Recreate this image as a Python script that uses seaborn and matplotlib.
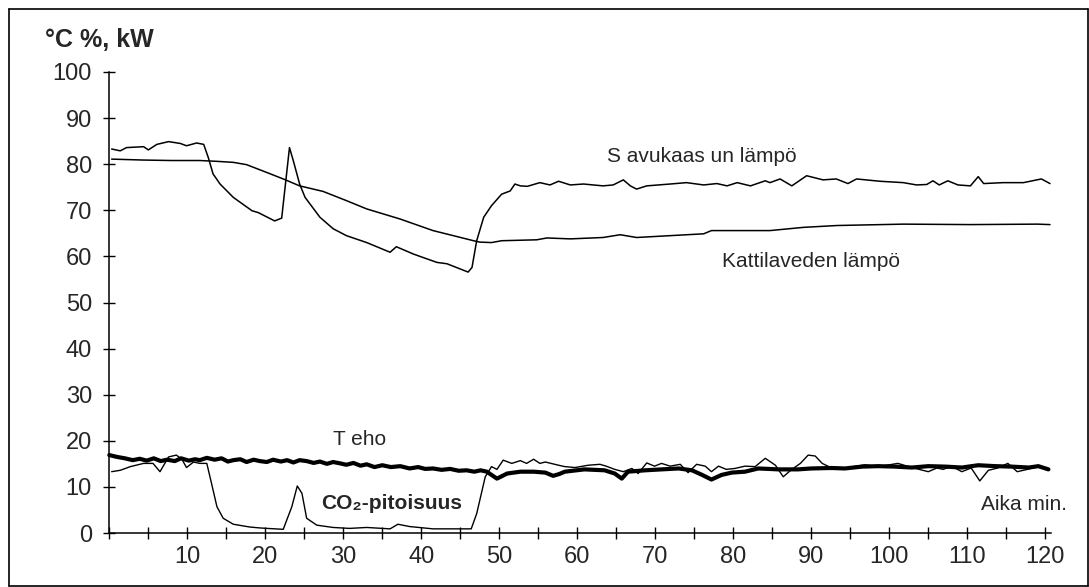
import matplotlib
matplotlib.use("Agg")
import matplotlib.pyplot as plt
import seaborn as sns
from matplotlib.lines import Line2D

# ---------------- data ----------------
# Savukaasun lämpö (flue gas temperature)
sav_x = [0.3, 1.4, 2.2, 3.3, 4.4, 5.0, 6.1, 7.6, 9.1, 9.9, 11.2, 12.1, 12.7, 13.3, 14.2,
         15.9, 18.3, 19.1, 21.2, 22.1, 23.1, 23.6, 24.4, 25.1, 27.0, 28.7, 30.4, 33.0,
         36.0, 36.8, 39.0, 42.0, 43.3, 46.0, 46.5, 47.1, 48.0, 49.0, 50.3, 51.4, 52.0,
         52.7, 53.6, 55.2, 56.5, 57.6, 59.1, 60.8, 63.3, 64.6, 65.9, 66.8, 67.6, 68.9,
         71.9, 74.0, 76.2, 77.9, 79.2, 80.5, 82.2, 84.1, 84.7, 86.0, 87.5, 89.4, 91.5,
         93.2, 94.7, 95.8, 98.8, 101.8, 103.5, 104.8, 105.6, 106.4, 107.5, 108.8, 110.4,
         111.4, 112.1, 114.6, 117.2, 119.5, 120.6]
sav_y = [83.3, 82.9, 83.6, 83.7, 83.8, 83.1, 84.3, 84.9, 84.5, 84.0, 84.6, 84.3, 81.4, 77.9, 75.7,
         72.8, 69.9, 69.5, 67.7, 68.3, 83.6, 80.7, 75.7, 72.8, 68.5, 66.0, 64.5, 63.0,
         60.9, 62.1, 60.5, 58.7, 58.4, 56.6, 57.6, 63.4, 68.5, 71.0, 73.5, 74.2, 75.7,
         75.3, 75.2, 76.0, 75.5, 76.3, 75.5, 75.7, 75.3, 75.5, 76.6, 75.3, 74.6, 75.3,
         75.7, 76.0, 75.5, 75.8, 75.3, 76.0, 75.3, 76.4, 76.0, 76.8, 75.3, 77.5, 76.6,
         76.8, 75.8, 76.8, 76.3, 76.0, 75.5, 75.6, 76.4, 75.5, 76.4, 75.5, 75.3,
         77.3, 75.8, 76.0, 76.0, 76.8, 75.8]

# Kattilaveden lämpö (boiler water temperature)
kat_x = [0.3, 4.4, 8.0, 11.6, 14.0, 15.9, 17.6, 20.2, 22.3, 24.4, 27.4, 30.4, 33.0, 37.3,
         41.5, 46.7, 47.5, 49.0, 50.3, 54.8, 56.1, 59.1, 63.3, 65.5, 67.6, 71.9, 76.2,
         77.2, 80.4, 84.7, 89.0, 93.3, 101.8, 110.4, 119.0, 120.6]
kat_y = [81.1, 80.9, 80.8, 80.8, 80.6, 80.4, 79.9, 78.2, 76.8, 75.3, 74.1, 72.1, 70.3, 68.1,
         65.6, 63.4, 63.1, 63.0, 63.4, 63.6, 64.0, 63.8, 64.1, 64.7, 64.1, 64.5, 64.9,
         65.6, 65.6, 65.6, 66.3, 66.7, 67.0, 66.9, 67.0, 66.9]

# Teho (power, kW)
teho_x = [0.0, 1.0, 2.0, 3.0, 3.9, 4.8, 5.7, 6.6, 7.4, 8.4, 9.2, 10.2, 11.0, 11.6, 12.5,
          13.5, 14.4, 15.2, 15.9, 16.8, 17.6, 18.5, 19.3, 20.2, 21.0, 22.0, 22.8, 23.6,
          24.4, 25.3, 26.2, 27.0, 27.9, 28.7, 29.6, 30.4, 31.3, 32.2, 33.0, 34.0, 35.0,
          36.1, 37.3, 38.5, 39.6, 40.5, 41.5, 42.6, 43.7, 44.8, 45.8, 46.8, 47.6, 48.4,
          49.0, 49.7, 50.3, 51.0, 52.7, 54.4, 55.9, 56.9, 57.7, 58.4, 60.9, 63.5, 64.8,
          65.7, 66.5, 68.7, 70.8, 73.0, 74.7, 76.0, 77.2, 78.5, 79.8, 81.5, 83.2, 85.8,
          88.3, 90.0, 92.6, 94.3, 96.5, 98.6, 100.7, 102.9, 105.0, 107.2, 109.3, 111.4,
          113.6, 115.7, 117.9, 119.1, 120.4]
teho_y = [16.9, 16.5, 16.2, 15.8, 16.1, 15.7, 16.2, 15.6, 15.9, 15.6, 16.2, 15.7, 16.0, 15.8, 16.3,
          15.9, 16.2, 15.5, 15.8, 16.0, 15.4, 15.9, 15.6, 15.4, 15.9, 15.5, 15.8, 15.3,
          15.8, 15.6, 15.2, 15.5, 15.0, 15.4, 15.1, 14.8, 15.2, 14.6, 14.9, 14.3, 14.7,
          14.3, 14.5, 14.0, 14.3, 13.9, 14.0, 13.7, 13.9, 13.5, 13.6, 13.3, 13.6, 13.3,
          12.6, 11.8, 12.3, 12.9, 13.3, 13.3, 13.1, 12.4, 12.8, 13.3, 13.8, 13.6, 12.9,
          11.8, 13.3, 13.6, 13.8, 14.0, 13.6, 12.6, 11.6, 12.6, 13.1, 13.3, 14.0, 13.8,
          13.8, 14.0, 14.1, 14.0, 14.4, 14.5, 14.4, 14.2, 14.5, 14.4, 14.2, 14.7,
          14.5, 14.4, 14.2, 14.5, 13.8]

# CO2-pitoisuus (CO2 content, %)
co2_x = [0.3, 1.4, 2.7, 4.4, 5.6, 6.5, 7.6, 8.6, 9.3, 9.9, 10.8, 11.6, 12.5, 13.1, 13.8,
         14.6, 15.9, 18.0, 19.3, 20.2, 22.3, 23.4, 24.1, 24.7, 25.3, 26.6, 28.7, 30.8,
         33.0, 36.0, 37.0, 38.5, 41.5, 43.7, 46.4, 47.1, 48.2, 49.0, 49.7, 50.5, 51.6,
         52.7, 53.5, 54.4, 55.2, 55.9, 57.6, 58.4, 59.7, 61.4, 62.9, 63.7, 64.8, 65.9,
         67.0, 67.8, 68.9, 69.9, 70.8, 71.9, 73.2, 74.2, 75.3, 76.4, 77.2, 78.1, 79.1,
         80.2, 81.5, 82.8, 84.1, 85.4, 86.4, 87.5, 88.6, 89.6, 90.5, 91.4, 92.6, 94.3,
         96.9, 98.6, 101.1, 102.9, 105.0, 106.1, 106.9, 108.0, 109.3, 110.5, 111.6,
         112.7, 113.9, 115.2, 116.4, 117.7, 119.0, 120.3]
co2_y = [13.3, 13.6, 14.4, 15.1, 15.1, 13.3, 16.5, 16.9, 16.0, 14.2, 15.4, 15.1, 15.1, 10.8, 5.7,
         3.2, 1.9, 1.3, 1.1, 1.0, 0.8, 5.7, 10.2, 8.6, 3.2, 1.7, 1.2, 1.0,
         1.2, 0.9, 1.9, 1.4, 0.9, 0.9, 0.9, 4.2, 12.2, 14.4, 13.8, 15.8, 15.1,
         15.7, 15.1, 16.0, 15.1, 15.4, 14.7, 14.4, 14.2, 14.7, 14.9, 14.5, 13.8, 13.3,
         14.0, 12.9, 15.2, 14.5, 15.1, 14.5, 14.9, 13.1, 14.9, 14.5, 13.3, 14.5, 13.8,
         14.0, 14.5, 14.4, 16.2, 14.7, 12.2, 13.8, 15.1, 16.9, 16.7, 15.1, 14.1, 14.1,
         14.8, 14.4, 15.1, 14.2, 13.3, 14.1, 13.8, 14.5, 13.3, 14.1, 11.3,
         13.6, 14.1, 15.1, 13.3, 13.8, 14.4, 14.0]

y_ticks = [0, 10, 20, 30, 40, 50, 60, 70, 80, 90, 100]
x_ticks = [10, 20, 30, 40, 50, 60, 70, 80, 90, 100, 110, 120]
x_minor = [0, 5, 15, 25, 35, 45, 55, 65, 75, 85, 95, 105, 115]

unit_label = "°C %, kW"
lbl_sav = "S avukaas un lämpö"
lbl_kat = "Kattilaveden lämpö"
lbl_teho = "T eho"
lbl_co2 = "CO₂-pitoisuus"
lbl_aika = "Aika min."

# ---------------- figure ----------------
sns.set_style("ticks")
plt.rcParams["font.family"] = ["Liberation Sans", "DejaVu Sans"]

W, H = 1089, 587
fig = plt.figure(figsize=(W / 100, H / 100), dpi=100)
fig.patch.set_facecolor("white")

x0_px, y0_px, ytop_px = 109.3, 533.0, 72.0
xmax = 120.7
ppm = 7.8
ax = fig.add_axes([x0_px / W, 1 - y0_px / H, xmax * ppm / W, (y0_px - ytop_px) / H])
ax.set_facecolor("white")

kw = dict(ax=ax, color="black", estimator=None, sort=False, legend=False)
sns.lineplot(x=sav_x, y=sav_y, linewidth=1.1, **kw)
sns.lineplot(x=kat_x, y=kat_y, linewidth=1.1, **kw)
sns.lineplot(x=co2_x, y=co2_y, linewidth=1.0, **kw)
sns.lineplot(x=teho_x, y=teho_y, linewidth=3.0, **kw)
for ln in ax.lines:
    ln.set_clip_on(False)
    ln.set_solid_joinstyle("round")

ax.set_xlim(0, xmax)
ax.set_ylim(0, 100)
sns.despine(ax=ax)
for s in ("left", "bottom"):
    ax.spines[s].set_linewidth(1.1)
    ax.spines[s].set_color("black")

ax.set_yticks(y_ticks)
ax.set_xticks(x_ticks)
ax.set_xticks(x_minor, minor=True)
ax.tick_params(which="both", direction="inout", length=9, width=1.0, color="black")
ax.tick_params(axis="y", labelsize=17, pad=8)
ax.tick_params(axis="x", labelsize=17, pad=5)
ax.set_xlabel("")
ax.set_ylabel("")

# annotations
ax.text(63.8, 80.4, lbl_sav, fontsize=15, ha="left", va="baseline")
ax.text(78.5, 57.6, lbl_kat, fontsize=15, ha="left", va="baseline")
ax.text(28.7, 19.05, lbl_teho, fontsize=15, ha="left", va="baseline")
ax.text(27.2, 5.3, lbl_co2, fontsize=15, fontweight="bold", ha="left", va="baseline")
ax.text(111.8, 5.0, lbl_aika, fontsize=15, ha="left", va="baseline")

fig.text(45 / W, 1 - 28 / H, unit_label, fontsize=18, fontweight="bold",
         ha="left", va="top")

# outer frame
L, T, R, B = 8.5 / W, 1 - 8.5 / H, 1 - 1.0 / W, 1.0 / H
for xs, ys in (([L, L], [B, T]), ([L, R], [T, T]), ([R, R], [B, T]), ([L, R], [B, B])):
    fig.add_artist(Line2D(xs, ys, transform=fig.transFigure, color="black", lw=1.2))

fig.savefig("out.png", dpi=100)
